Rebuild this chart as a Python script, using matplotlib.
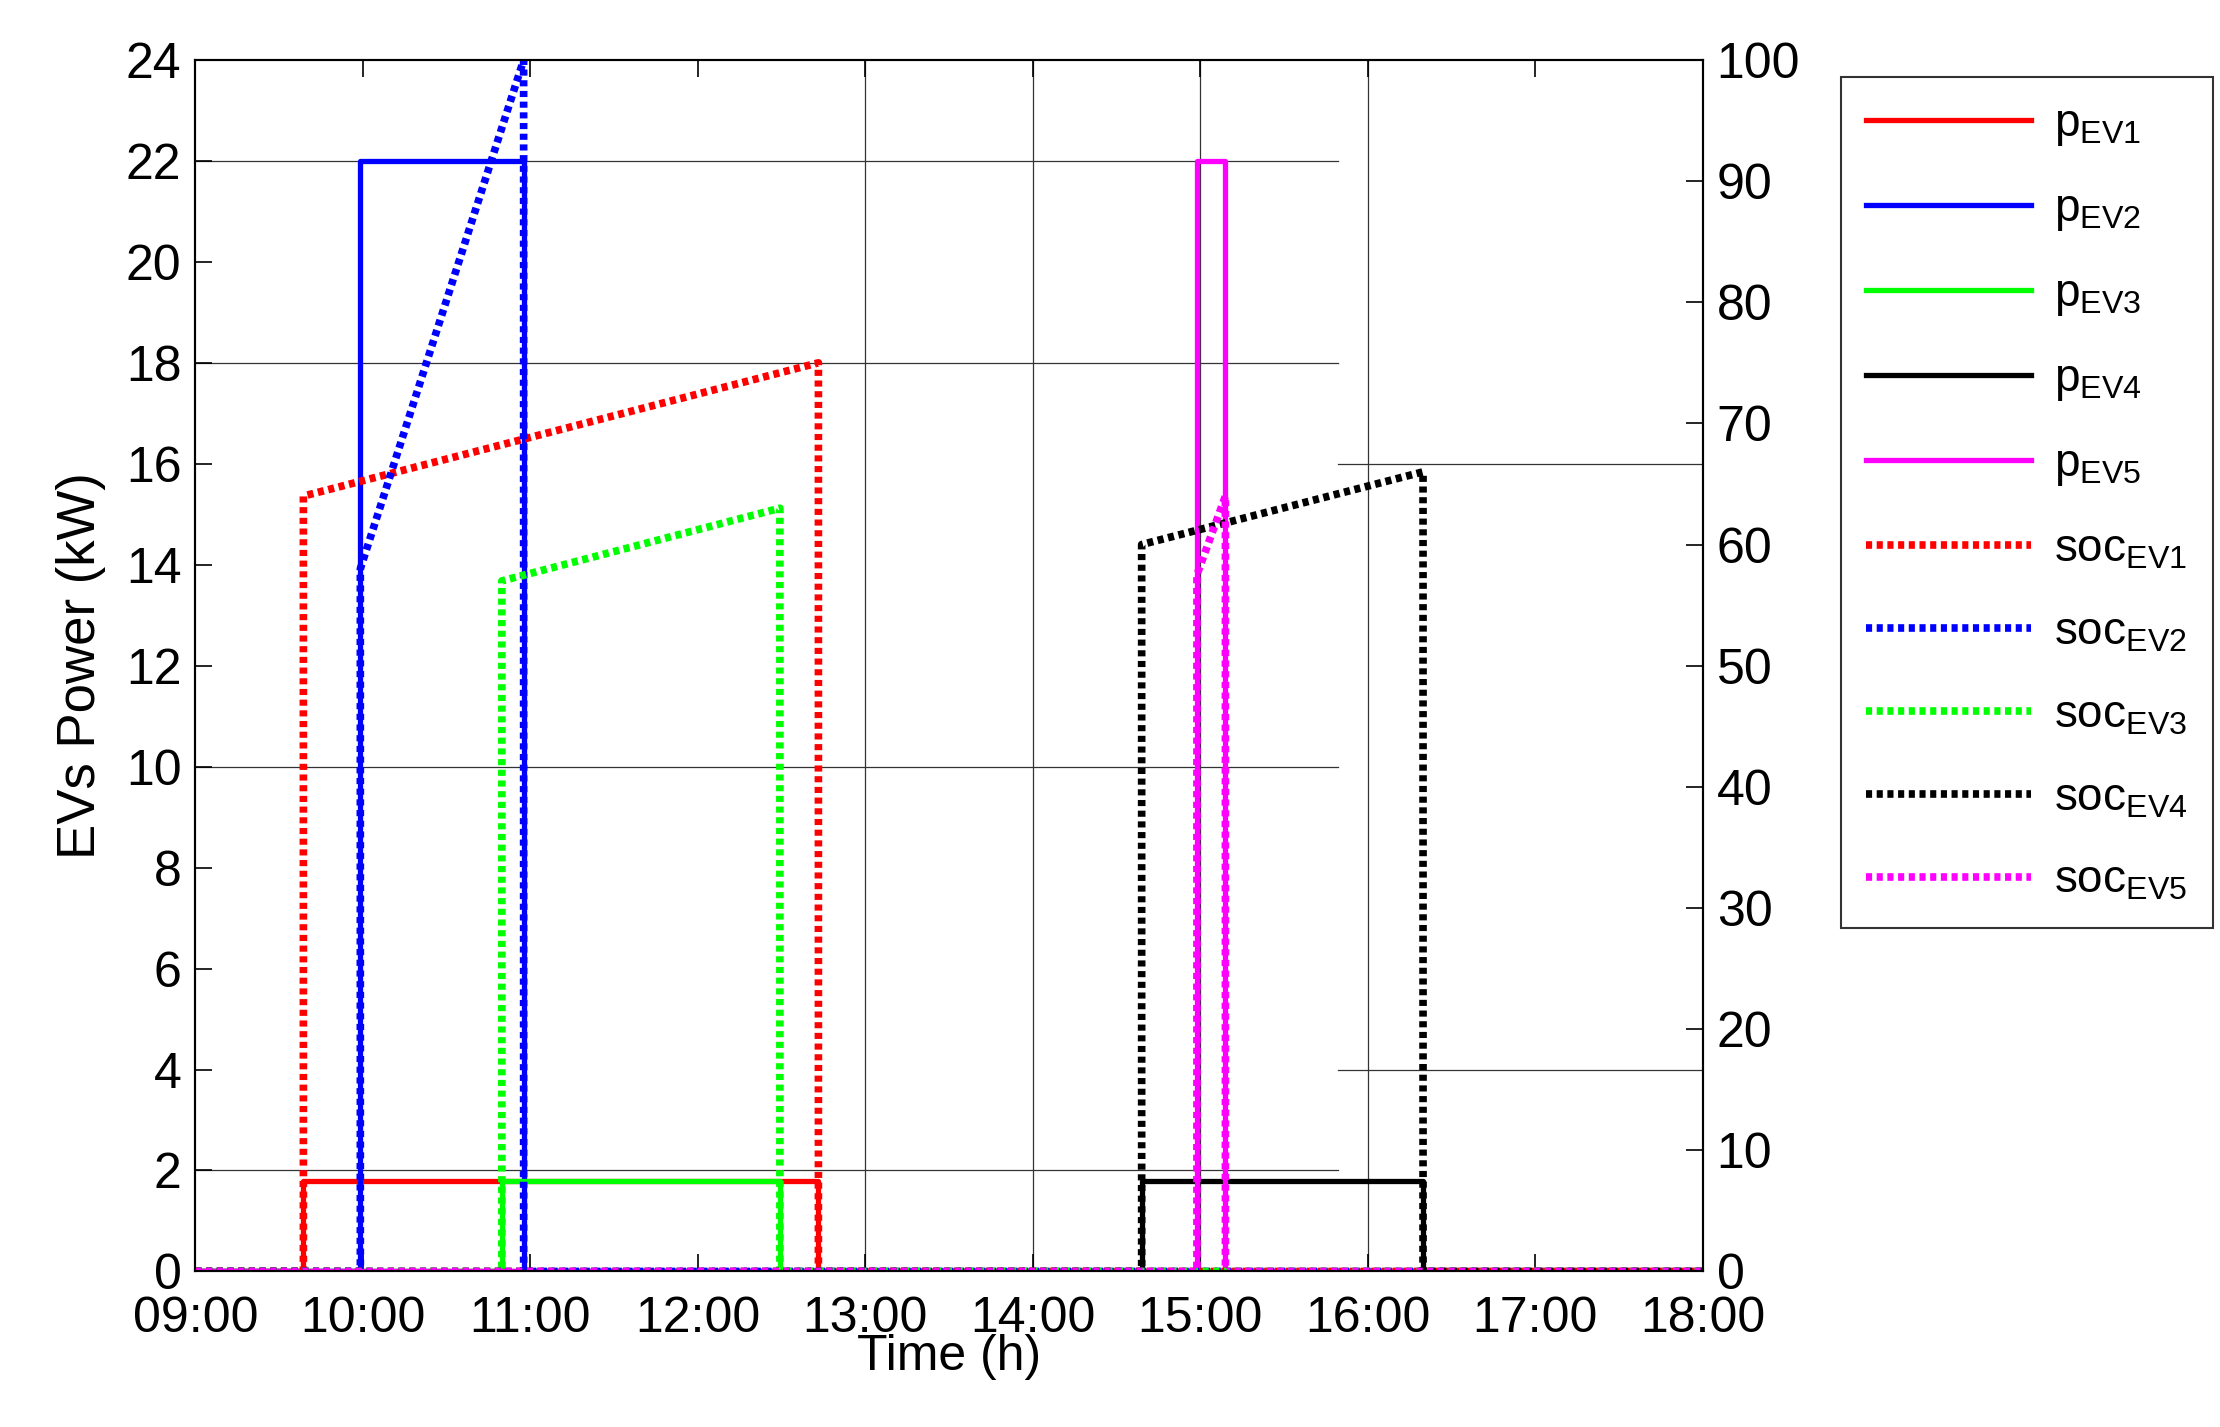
import matplotlib
matplotlib.use('Agg')
import matplotlib.pyplot as plt

plt.rcParams['font.family'] = ['Liberation Sans', 'DejaVu Sans']
plt.rcParams['mathtext.fontset'] = 'custom'
plt.rcParams['mathtext.rm'] = 'Liberation Sans'

# charging windows (hours), power (kW), soc start/end (%)
ev_names = ['EV1', 'EV2', 'EV3', 'EV4', 'EV5']
colors = ['#ff0000', '#0000ff', '#00ff00', '#000000', '#ff00ff']
t_start = [9.645, 9.985, 10.83, 14.65, 14.98]
t_end = [12.72, 10.96, 12.49, 16.33, 15.15]
power = [1.8, 22.0, 1.8, 1.8, 22.0]
soc_start = [64.0, 58.0, 57.0, 60.0, 57.5]
soc_end = [75.0, 100.0, 63.0, 66.0, 64.0]
t0, t1 = 9.0, 18.0

fig = plt.figure(figsize=(22.2, 14.27), dpi=100)
ax = fig.add_axes([0.088, 0.109, 0.767 - 0.088, 0.958 - 0.109])
ax2 = ax.twinx()

# grid the way the original shows it
for v in [13, 14, 15, 16]:
    ax.axvline(v, color='#333333', lw=0.9, zorder=0)
for v in [2, 10, 18, 22]:
    ax.axhline(v, xmax=(15.82 - t0) / 9, color='#333333', lw=0.9, zorder=0)
for v in [4, 16]:
    ax.axhline(v, xmin=(15.82 - t0) / 9, color='#333333', lw=0.9, zorder=0)

handles = []
for i in range(5):
    x = [t0, t_start[i], t_start[i], t_end[i], t_end[i], t1]
    y = [0, 0, power[i], power[i], 0, 0]
    h, = ax.plot(x, y, color=colors[i], lw=3.8, label=r'p$_{\mathrm{%s}}$' % ev_names[i])
    handles.append(h)
for i in range(5):
    x = [t0, t_start[i], t_start[i], t_end[i], t_end[i], t1]
    y = [0, 0, soc_start[i], soc_end[i], 0, 0]
    h, = ax2.plot(x, y, color=colors[i], lw=5.5, ls=(0, (0.8, 0.6)),
                  label=r'soc$_{\mathrm{%s}}$' % ev_names[i])
    handles.append(h)

ax.set_xlim(t0, t1)
ax.set_ylim(0, 24)
ax2.set_ylim(0, 100)
ax.set_xticks(range(9, 19))
ax.set_xticklabels(['%02d:00' % h for h in range(9, 19)])
ax.set_yticks(range(0, 25, 2))
ax2.set_yticks(range(0, 101, 10))
for a in (ax, ax2):
    a.tick_params(direction='in', length=12, width=1.2, labelsize=36, top=True)
    for s in a.spines.values():
        s.set_linewidth(1.5)
ax.tick_params(axis='x', pad=18)
ax.tick_params(axis='y', pad=10)
ax2.tick_params(axis='y', pad=10)
ax.set_xlabel('Time (h)', fontsize=36, labelpad=-6)
ax.set_ylabel('EVs Power (kW)', fontsize=38, labelpad=14)

leg = fig.legend(handles=handles, loc='upper left', bbox_to_anchor=(0.819, 0.962),
                 fontsize=33, handlelength=3.6, labelspacing=0.85, frameon=True,
                 fancybox=False, edgecolor='black', borderpad=0.55, handletextpad=0.5)
leg.get_frame().set_linewidth(1.5)

fig.savefig('out.png', dpi=100, facecolor='white')
